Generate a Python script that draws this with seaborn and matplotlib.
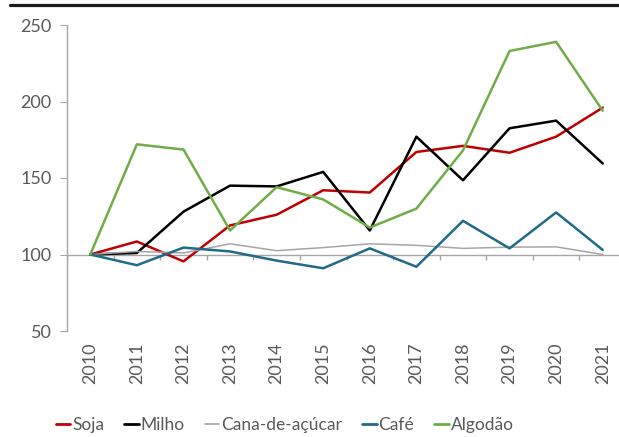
import pandas as pd
import matplotlib.pyplot as plt
import matplotlib.lines as mlines
import seaborn as sns

years = [str(y) for y in range(2010, 2022)]
soja = [100, 108.5, 95.5, 119, 126, 142, 140.5, 167, 171, 166.5, 177, 196]
milho = [100, 101, 128, 145, 144.5, 154, 115.7, 177, 148.5, 182.5, 187.5, 159.5]
cana = [100, 102, 101, 107, 102.5, 104.5, 107, 106, 104, 104.8, 105, 100]
cafe = [100, 93, 104.5, 102, 96, 91, 104, 92, 122, 104, 127.5, 103]
algodao = [100, 172, 168.6, 115.7, 144, 136, 117.6, 130, 168, 233, 239, 194]

series = ["Soja", "Milho", "Cana-de-açúcar", "Café", "Algodão"]
colors = ["#c00000", "#000000", "#a6a6a6", "#1f6b8a", "#70ad47"]

rows = []
for name, vals in zip(series, [soja, milho, cana, cafe, algodao]):
    for i, v in enumerate(vals):
        rows.append({"x": i, "valor": v, "produto": name})
df = pd.DataFrame(rows)

sns.set_style("white")
plt.rcParams['font.family'] = ['Lato', 'DejaVu Sans']

fig = plt.figure(figsize=(6.19, 4.37), dpi=100)
ax = fig.add_axes([67 / 619, 106 / 437, 559 / 619, 306 / 437])

sns.lineplot(data=df, x="x", y="valor", hue="produto", hue_order=series,
             palette=colors, linewidth=1.8, ax=ax, legend=False)
# thinner grey line
ax.lines[2].set_linewidth(1.1)

ax.set_xlim(-0.5, 11.5)
ax.set_ylim(50, 250)
ax.set_yticks([50, 100, 150, 200, 250])
ax.set_xticks(range(len(years)))
ax.set_xticklabels(years, rotation=90)
ax.set_xlabel("")
ax.set_ylabel("")

for s in ["top", "right", "bottom"]:
    ax.spines[s].set_visible(False)
ax.spines["left"].set_color("#a6a6a6")
ax.spines["left"].set_linewidth(1)
ax.tick_params(axis="y", left=True, length=5, color="#a6a6a6", labelsize=13,
               labelcolor="#595959", pad=6)
ax.tick_params(axis="x", bottom=False, length=0, labelsize=13,
               labelcolor="#595959", pad=8)

# category axis crosses at 100
ax.axhline(100, color="#a6a6a6", linewidth=1, zorder=1)
ax.vlines([i + 0.5 for i in range(-1, len(years))], 96.5, 100,
          color="#a6a6a6", linewidth=1, zorder=1)

handles = [mlines.Line2D([], [], color=c, linewidth=2 if n != "Cana-de-açúcar" else 1.2)
           for n, c in zip(series, colors)]
fig.legend(handles, series, loc="lower left", bbox_to_anchor=(40 / 619, -0.027),
           ncol=5, frameon=False, fontsize=12.5, handlelength=0.85,
           handletextpad=0.1, columnspacing=1.15, labelcolor="#595959")

fig.add_artist(mlines.Line2D([10 / 619, 1], [1 - 4.7 / 437, 1 - 4.7 / 437],
                             color="#1a1a1a", linewidth=2.3,
                             transform=fig.transFigure))

fig.savefig("out.png", dpi=100)
